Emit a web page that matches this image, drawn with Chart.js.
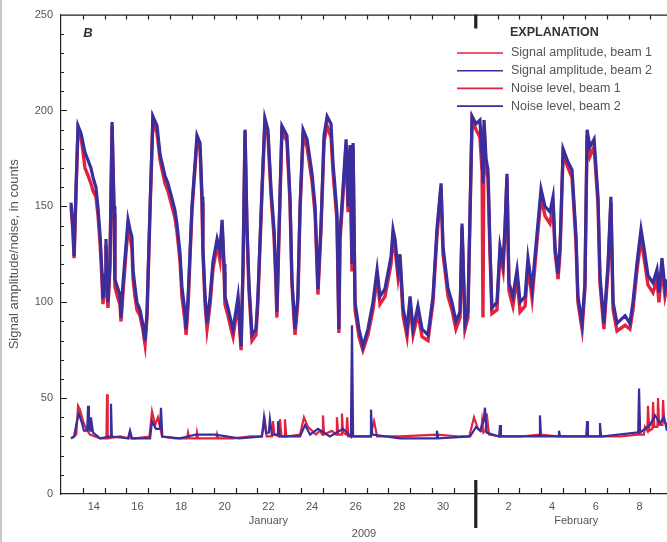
<!DOCTYPE html>
<html>
<head>
<meta charset="utf-8">
<script src="https://cdn.jsdelivr.net/npm/chart.js@4"></script>
<style>
  html, body { margin: 0; padding: 0; background: #fff; }
  canvas { display: block; }
</style>
</head>
<body>
<canvas id="chart" width="667" height="542"></canvas>
<script>
// days since Jan 13 2009 00:00
const sigDays = [0.46, 0.55, 0.60, 0.69, 0.78, 0.92, 1.10, 1.24, 1.37, 1.47, 1.60, 1.69, 1.79, 1.88, 1.92, 2.02, 2.06, 2.11, 2.15, 2.24,
  2.34, 2.43, 2.47, 2.61, 2.70, 2.75, 2.84, 2.98, 3.07, 3.16, 3.25, 3.30, 3.39, 3.48, 3.62, 3.76, 3.85, 3.94, 4.08, 4.21,
  4.40, 4.54, 4.76, 4.90, 4.99, 5.13, 5.22, 5.31, 5.45, 5.54, 5.68, 5.73, 5.82, 6.00, 6.23, 6.37, 6.46, 6.50, 6.60, 6.69,
  6.83, 6.96, 7.15, 7.28, 7.38, 7.47, 7.51, 7.65, 7.79, 7.88, 8.02, 8.11, 8.25, 8.34, 8.43, 8.52, 8.61, 8.75, 8.93, 9.02,
  9.21, 9.34, 9.48, 9.62, 9.76, 9.85, 9.89, 9.98, 10.12, 10.35, 10.49, 10.58, 10.72, 10.85, 10.95, 11.09, 11.27, 11.50, 11.64, 11.73,
  11.77, 11.91, 12.05, 12.19, 12.37, 12.46, 12.64, 12.73, 12.78, 12.92, 13.06, 13.15, 13.24, 13.33, 13.38, 13.47, 13.65, 13.83, 14.06, 14.29,
  14.48, 14.61, 14.84, 15.12, 15.21, 15.30, 15.44, 15.53, 15.67, 15.85, 15.99, 16.13, 16.35, 16.54, 16.81, 17.04, 17.22, 17.41, 17.50, 17.73,
  17.91, 18.09, 18.28, 18.37, 18.51, 18.64, 18.83, 19.01, 19.19, 19.29, 19.33, 19.38, 19.47, 19.56, 19.65, 19.74, 19.97, 20.11, 20.25, 20.34,
  20.43, 20.52, 20.70, 20.89, 21.03, 21.26, 21.39, 21.58, 21.80, 21.99, 22.17, 22.40, 22.54, 22.63, 22.77, 22.86, 23.00, 23.23, 23.41, 23.59,
  23.68, 23.87, 24.00, 24.10, 24.23, 24.42, 24.60, 24.69, 24.87, 25.06, 25.19, 25.29, 25.47, 25.84, 26.06, 26.20, 26.39, 26.57, 26.71, 26.89,
  27.12, 27.30, 27.39, 27.53, 27.67, 27.76];
const sigBeam1 = [150, 136, 123, 158, 190, 186, 170, 166, 162, 158, 155, 146, 131, 111, 99, 108, 130, 106, 97, 117,
  192, 146, 108, 102, 99, 90, 105, 126, 139, 134, 128, 112, 103, 96, 93, 85, 78, 92, 148, 195,
  188, 174, 162, 158, 154, 148, 144, 137, 122, 103, 90, 83, 98, 148, 184, 180, 152, 126, 99, 86,
  99, 117, 130, 122, 140, 116, 99, 93, 86, 82, 93, 99, 75, 118, 189, 137, 106, 80, 83, 100,
  158, 193, 187, 156, 134, 108, 92, 132, 189, 184, 152, 109, 83, 100, 148, 186, 181, 163, 146, 118,
  104, 138, 184, 192, 186, 168, 143, 84, 132, 156, 182, 147, 180, 116, 181, 96, 82, 75, 83, 96,
  113, 99, 103, 120, 134, 128, 113, 121, 93, 82, 99, 83, 94, 82, 80, 100, 134, 160, 125, 103,
  96, 86, 92, 139, 86, 92, 195, 190, 186, 168, 92, 192, 170, 165, 126, 94, 96, 126, 117, 137,
  165, 106, 98, 113, 95, 98, 119, 102, 131, 155, 145, 141, 151, 126, 112, 126, 177, 170, 165, 131,
  100, 86, 107, 187, 176, 181, 151, 110, 86, 117, 152, 96, 85, 88, 86, 96, 117, 133, 123, 109,
  105, 112, 100, 118, 103, 108];
const sigBeam2 = [152, 138, 124, 160, 192, 188, 178, 174, 170, 165, 160, 150, 135, 115, 102, 112, 133, 110, 100, 120,
  194, 150, 112, 107, 104, 92, 110, 130, 143, 138, 134, 117, 108, 100, 96, 88, 80, 95, 150, 197,
  192, 177, 166, 162, 158, 152, 148, 141, 126, 108, 95, 86, 102, 150, 187, 183, 155, 129, 103, 89,
  103, 121, 133, 127, 143, 120, 103, 97, 90, 86, 96, 103, 77, 120, 190, 140, 110, 83, 86, 103,
  160, 196, 190, 159, 138, 112, 95, 135, 192, 187, 155, 112, 86, 103, 150, 190, 185, 167, 150, 121,
  107, 140, 187, 197, 193, 173, 147, 86, 135, 160, 185, 150, 182, 120, 183, 100, 86, 77, 86, 100,
  117, 103, 107, 124, 138, 133, 117, 125, 97, 86, 103, 86, 98, 86, 83, 103, 138, 162, 129, 107,
  100, 90, 95, 141, 89, 95, 197, 193, 195, 176, 162, 195, 175, 169, 130, 97, 100, 129, 120, 140,
  167, 110, 103, 117, 100, 103, 123, 107, 135, 159, 150, 147, 155, 129, 115, 129, 180, 173, 169, 135,
  103, 89, 110, 190, 181, 185, 155, 114, 89, 120, 155, 100, 89, 93, 89, 100, 121, 138, 128, 114,
  110, 117, 105, 123, 107, 112];

const noiseDays1 = [0.46, 0.60, 0.70, 0.78, 0.87, 1.01, 1.15, 1.33, 1.56, 1.80,
  2.08, 2.11, 2.14, 2.70, 3.10, 3.16, 3.22, 3.39, 4.05, 4.17,
  4.31, 4.44, 4.63, 5.22, 5.78, 5.82, 5.88, 6.20, 6.23, 6.28,
  7.12, 7.15, 7.20, 7.88, 8.70, 9.18, 9.34, 9.42, 9.66, 9.71,
  9.78, 9.98, 10.03, 10.10, 10.22, 10.26, 10.32, 10.95, 11.13, 11.31,
  11.50, 11.68, 11.86, 11.97, 12.00, 12.05, 12.41, 12.60, 12.64, 12.70,
  12.84, 12.87, 12.92, 13.07, 13.11, 13.16, 13.70, 14.16, 14.20, 14.34,
  14.48, 15.53, 17.22, 18.28, 18.70, 18.92, 19.10, 19.25, 19.29, 19.35,
  19.45, 19.50, 19.61, 20.11, 21.03, 21.94, 22.86, 23.77, 24.69, 25.61,
  26.43, 26.70, 26.75, 26.86, 26.89, 26.95, 27.09, 27.12, 27.18, 27.32,
  27.35, 27.40, 27.55, 27.58, 27.63, 27.76];
const noiseBeam1 = [29, 30, 31, 46, 44, 38, 34, 31, 30, 29,
  29, 52, 29, 30, 29, 32, 29, 29, 30, 43,
  36, 40, 30, 29, 29, 32, 29, 29, 32, 29,
  29, 31, 29, 29, 30, 30, 38, 30, 30, 38,
  31, 30, 39, 30, 30, 39, 30, 31, 40, 35,
  33, 31, 33, 31, 41, 31, 33, 31, 40, 31,
  31, 42, 32, 31, 40, 30, 30, 30, 32, 38,
  30, 30, 31, 30, 30, 40, 34, 33, 38, 32,
  33, 42, 31, 30, 30, 31, 30, 30, 30, 30,
  31, 31, 35, 33, 46, 33, 34, 48, 35, 35,
  50, 36, 36, 49, 38, 36];
const noiseDays2 = [0.46, 0.60, 0.73, 0.82, 0.96, 1.05, 1.20, 1.24, 1.28, 1.33,
  1.37, 1.47, 1.79, 2.26, 2.29, 2.33, 3.07, 3.16, 3.25, 4.08,
  4.17, 4.35, 4.53, 4.58, 4.64, 5.45, 6.18, 7.06, 8.15, 9.21,
  9.30, 9.39, 9.52, 9.57, 9.66, 9.90, 9.94, 10.02, 10.95, 11.18,
  11.41, 11.77, 12.32, 12.92, 13.28, 13.33, 13.38, 13.88, 14.16, 14.20,
  14.26, 15.53, 17.18, 17.22, 17.28, 18.74, 19.01, 19.20, 19.36, 19.42,
  19.50, 20.07, 20.11, 20.15, 21.90, 21.94, 21.99, 22.77, 22.81, 22.86,
  24.06, 24.10, 24.14, 24.65, 24.69, 24.74, 26.34, 26.44, 26.48, 26.53,
  26.98, 27.21, 27.44, 27.62, 27.76];
const noiseBeam2 = [29, 30, 38, 42, 37, 33, 33, 46, 34, 33,
  40, 32, 29, 30, 47, 30, 29, 33, 29, 29,
  38, 34, 34, 45, 30, 29, 31, 31, 29, 30,
  40, 32, 32, 39, 31, 31, 38, 30, 30, 36,
  31, 34, 30, 34, 30, 88, 30, 30, 30, 44,
  31, 29, 29, 33, 29, 30, 35, 33, 38, 45,
  32, 30, 36, 30, 30, 41, 30, 30, 33, 30,
  30, 38, 30, 30, 37, 30, 32, 32, 55, 32,
  36, 41, 37, 40, 33];

// x tick labels (noon of even days) and month / year labels
const tickDays = [1.5, 3.5, 5.5, 7.5, 9.5, 11.5, 13.5, 15.5, 17.5, 20.5, 22.5, 24.5, 26.5];
const tickLabels = ['14', '16', '18', '20', '22', '24', '26', '28', '30', '2', '4', '6', '8'];
const monthNames = ['January', 'February'];
const monthDays = [9.5, 23.6];
const monthBreakDay = 19; // Feb 1
const yearLabel = '2009';

const RED = '#e2233f';
const BLUE = '#3a2d9c';
const AXIS = '#222';
const TEXT = '#555';
const FONT = 'Arial, "Liberation Sans", sans-serif';

function pts(xs, ys) {
  return xs.map((x, i) => ({ x: x, y: ys[i] }));
}

// tick marks inside the plot, Feb 1 separator, month names, explanation box
const axisDecor = {
  id: 'axisDecor',
  afterDraw(chart) {
    const { ctx, chartArea: a, scales: { x, y } } = chart;
    ctx.save();
    // left page edge
    ctx.fillStyle = '#c9c9c9';
    ctx.fillRect(0, 0, 2, chart.height);

    ctx.strokeStyle = AXIS;
    ctx.lineWidth = 1.2;
    ctx.beginPath();
    ctx.moveTo(a.left, a.top + 0.5);
    ctx.lineTo(a.right, a.top + 0.5);
    for (let d = 1; d <= Math.floor(x.max); d++) {
      const px = Math.round(x.getPixelForValue(d)) + 0.5;
      ctx.moveTo(px, a.bottom);
      ctx.lineTo(px, a.bottom - 6);
      ctx.moveTo(px, a.top);
      ctx.lineTo(px, a.top + 5);
    }
    for (let v = 10; v < 250; v += 10) {
      const py = Math.round(y.getPixelForValue(v)) + 0.5;
      ctx.moveTo(a.left, py);
      ctx.lineTo(a.left + (v % 50 === 0 ? 6 : 3), py);
    }
    ctx.stroke();

    // Feb 1 separator
    const bx = x.getPixelForValue(monthBreakDay);
    ctx.lineWidth = 3.2;
    ctx.beginPath();
    ctx.moveTo(bx, a.bottom - 14);
    ctx.lineTo(bx, a.bottom + 34);
    ctx.moveTo(bx, a.top);
    ctx.lineTo(bx, a.top + 14);
    ctx.stroke();

    // month names
    ctx.fillStyle = TEXT;
    ctx.font = '11px ' + FONT;
    ctx.textAlign = 'center';
    ctx.textBaseline = 'middle';
    monthNames.forEach((m, i) => {
      ctx.fillText(m, x.getPixelForValue(monthDays[i]), 521);
    });

    // panel letter
    ctx.fillStyle = '#333';
    ctx.font = 'italic bold 13px ' + FONT;
    ctx.fillText('B', 88, 33);

    // explanation
    ctx.textAlign = 'left';
    ctx.font = 'bold 12.5px ' + FONT;
    ctx.fillStyle = '#333';
    ctx.fillText('EXPLANATION', 510, 33);
    ctx.font = '12.5px ' + FONT;
    chart.data.datasets.forEach((ds, i) => {
      const ly = 53 + i * 17.7;
      ctx.strokeStyle = ds.borderColor;
      ctx.lineWidth = 1.6;
      ctx.beginPath();
      ctx.moveTo(457, ly);
      ctx.lineTo(503, ly);
      ctx.stroke();
      ctx.fillStyle = TEXT;
      ctx.fillText(ds.label, 511, ly);
    });
    ctx.restore();
  }
};

const ctx = document.getElementById('chart').getContext('2d');
new Chart(ctx, {
  type: 'line',
  data: {
    datasets: [
      { label: 'Signal amplitude, beam 1', data: pts(sigDays, sigBeam1), borderColor: RED, borderWidth: 3.4, order: 4 },
      { label: 'Signal amplitude, beam 2', data: pts(sigDays, sigBeam2), borderColor: BLUE, borderWidth: 3.2, order: 3 },
      { label: 'Noise level, beam 1', data: pts(noiseDays1, noiseBeam1), borderColor: RED, borderWidth: 2.2, order: 2 },
      { label: 'Noise level, beam 2', data: pts(noiseDays2, noiseBeam2), borderColor: BLUE, borderWidth: 2.2, order: 1 }
    ]
  },
  options: {
    responsive: false,
    animation: false,
    elements: { point: { radius: 0 }, line: { tension: 0 } },
    plugins: { legend: { display: false }, tooltip: { enabled: false } },
    layout: { padding: { top: 13, right: 0, left: 0, bottom: 0 } },
    scales: {
      x: {
        type: 'linear',
        min: 0,
        max: 27.76,
        afterBuildTicks: (s) => { s.ticks = tickDays.map((v) => ({ value: v })); },
        afterFit: (s) => { s.height = 48; },
        ticks: {
          autoSkip: false,
          maxRotation: 0,
          padding: 6,
          color: TEXT,
          font: { size: 11, family: FONT },
          callback: (v, i) => tickLabels[i]
        },
        grid: { display: false, drawTicks: false },
        border: { display: true, color: AXIS, width: 1.2 },
        title: { display: true, text: yearLabel, color: TEXT, font: { size: 11, family: FONT }, padding: { top: 0, bottom: 1 } }
      },
      y: {
        min: 0,
        max: 250,
        afterFit: (s) => { s.width = 61; },
        ticks: { stepSize: 50, padding: 8, color: TEXT, font: { size: 11, family: FONT } },
        grid: { display: false, drawTicks: false },
        border: { display: true, color: AXIS, width: 1.2 },
        title: { display: true, text: 'Signal amplitude/noise, in counts', color: TEXT, font: { size: 13, family: FONT }, padding: { top: 7, bottom: 0 } }
      }
    }
  },
  plugins: [axisDecor]
});
</script>
</body>
</html>
